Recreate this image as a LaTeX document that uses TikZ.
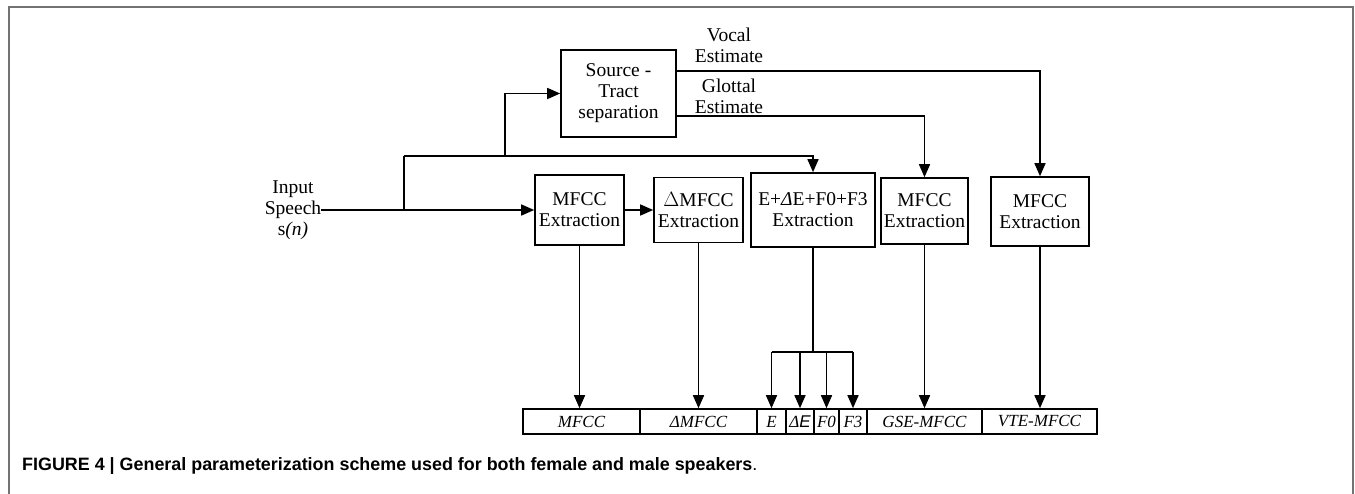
\documentclass[tikz,border=0pt]{standalone}
\usepackage{fontspec}
\setmainfont{Liberation Serif}
\newfontfamily\capfont{Liberation Sans}
\usetikzlibrary{arrows.meta}
\begin{document}
\begin{tikzpicture}[x=1pt,y=-1pt,
  box/.style={draw, line width=1.6pt, inner sep=0pt, align=center, font=\fontsize{19.5}{21}\selectfont},
  cell/.style={draw, line width=1.6pt, inner sep=0pt, minimum height=25pt, font=\fontsize{17}{19}\selectfont\itshape},
  lbl/.style={inner sep=0pt, align=center, font=\fontsize{19.5}{21}\selectfont},
  conn/.style={line width=1.5pt},
  arr/.style={conn, -{Triangle[length=13pt,width=11pt]}},
  frameline/.style={draw=black!55, line width=1.6pt}]
\useasboundingbox (0,0) rectangle (1355,494);
% frame
\draw[frameline] (9,494) -- (9,7) -- (1353,7) -- (1353,494);
% boxes
\node[box, minimum width=115pt, minimum height=87pt] (src) at (618.5,93.5) {Source -\\Tract\\separation};
\node[box, minimum width=89pt, minimum height=70pt] (m1) at (579.5,210) {MFCC\\Extraction};
\node[box, minimum width=89pt, minimum height=65pt] (dm) at (698.5,210) {$\Delta$MFCC\\Extraction};
\node[box, minimum width=124pt, minimum height=74pt] (ef) at (813,210) {E+{\itshape Δ}E+F0+F3\\Extraction};
\node[box, minimum width=87pt, minimum height=66pt] (m3) at (924.5,211) {MFCC\\Extraction};
\node[box, minimum width=98pt, minimum height=69pt] (m4) at (1040,211.5) {MFCC\\Extraction};
% input label
\node[lbl] (in) at (293,210) {Input\\Speech\\s\textit{(n)}};
\node[lbl] (vl) at (729,45) {Vocal\\Estimate};
\node[lbl] (gl) at (729,96.5) {Glottal\\Estimate};
% bottom bar
\node[cell, minimum width=117pt] (c1) at (581.5,421.5) {MFCC};
\node[cell, minimum width=117pt] (c2) at (698.5,421.5) {ΔMFCC};
\node[cell, minimum width=29pt] (c3) at (771.5,421.5) {E};
\node[cell, minimum width=28pt] (c4) at (800,421.5) {Δ{\capfont E}};
\node[cell, minimum width=25pt] (c5) at (826.5,421.5) {F0};
\node[cell, minimum width=28pt] (c6) at (853,421.5) {F3};
\node[cell, minimum width=115pt] (c7) at (924.5,421.5) {GSE-MFCC};
\node[cell, minimum width=115pt] (c8) at (1039.5,421.5) {VTE-MFCC};
% coordinates
\coordinate (j1) at (404,210);
\coordinate (j2) at (404,156);
\coordinate (j3) at (505,156);
\coordinate (vy) at (0,71);
\coordinate (gy) at (0,116);
\coordinate (br) at (813,352);
% connectors
\draw[arr] (in.east) -- (m1.west);
\draw[conn] (j1) -- (j2);
\draw[arr] (j2) -| (ef.north);
\draw[arr] (j3) |- (src.west);
\draw[arr] (m1.east) -- (dm.west);
\draw[arr] (src.east |- vy) -| (m4.north);
\draw[arr] (src.east |- gy) -| (m3.north);
\draw[arr] (m1.south) -- (m1.south |- c1.north);
\draw[arr] (dm.south) -- (c2.north);
\draw[arr] (m3.south) -- (m3.south |- c7.north);
\draw[arr] (m4.south) -- (m4.south |- c8.north);
\draw[conn] (ef.south) -- (br);
\draw[conn] (c3.north |- br) -- (c6.north |- br);
\draw[arr] (c3.north |- br) -- (c3.north);
\draw[arr] (c4.north |- br) -- (c4.north);
\draw[arr] (c5.north |- br) -- (c5.north);
\draw[arr] (c6.north |- br) -- (c6.north);
% caption
\node[anchor=base west, inner sep=0pt, font=\capfont\fontsize{17.9}{20}\selectfont] (cap) at (22,470) {\textbf{FIGURE 4 | General parameterization scheme used for both female and male speakers}.};
\end{tikzpicture}
\end{document}
